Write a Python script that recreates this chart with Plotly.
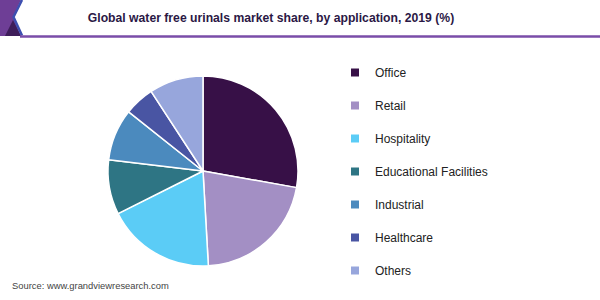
import plotly.graph_objects as go

categories = ["Office", "Retail", "Hospitality", "Educational Facilities",
              "Industrial", "Healthcare", "Others"]
shares = [27.8, 21.3, 18.5, 9.3, 8.8, 5.1, 9.2]
colors = ["#371047", "#A38FC4", "#5BCCF6", "#2E7584", "#4B8ABE", "#4955A3", "#97A6DC"]

title_text = "Global water free urinals market share, by application, 2019 (%)"
source_text = "Source: www.grandviewresearch.com"

W, H = 600, 300

def px(x):
    return x / W

def py(y):
    return 1 - y / H

fig = go.Figure()
fig.add_trace(go.Pie(
    labels=categories, values=shares, sort=False, direction="clockwise",
    rotation=0, textinfo="none", hoverinfo="label+percent",
    marker=dict(colors=colors, line=dict(color="white", width=1.5)),
    domain=dict(x=[px(108), px(298)], y=[py(266), py(76)]),
    showlegend=False,
))

for i, (c, col) in enumerate(zip(categories, colors)):
    fig.add_trace(go.Scatter(
        x=[None], y=[None], mode="markers", name=c,
        marker=dict(symbol="square", size=8, color=col),
        legendgroup=f"g{i}", showlegend=True,
    ))

shapes = []
# header corner decoration
shapes.append(dict(type="path", xref="paper", yref="paper",
                   path=f"M 0 {py(0)} L {px(21)} {py(0)} L {px(13)} {py(17)} L {px(21)} {py(36)} L 0 {py(36)} Z",
                   fillcolor="#6E3E96", line=dict(width=0), layer="above"))
shapes.append(dict(type="path", xref="paper", yref="paper",
                   path=f"M {px(5)} {py(36)} L {px(13)} {py(20)} L {px(21)} {py(36)} Z",
                   fillcolor="#3E1D5A", line=dict(width=0), layer="above"))
shapes.append(dict(type="path", xref="paper", yref="paper",
                   path=f"M {px(22)} {py(0)} L {px(13.5)} {py(17)} L {px(22)} {py(35.5)}",
                   line=dict(color="#3D4FB0", width=2.5), layer="above"))
# header underline
shapes.append(dict(type="line", xref="paper", yref="paper",
                   x0=px(20), x1=1, y0=py(36.5), y1=py(36.5),
                   line=dict(color="#7A4DA8", width=2.5), layer="above"))

fig.update_layout(
    width=W, height=H,
    margin=dict(l=0, r=0, t=0, b=0),
    paper_bgcolor="white", plot_bgcolor="white",
    xaxis=dict(visible=False), yaxis=dict(visible=False),
    shapes=shapes,
    title=dict(text=f"<b>{title_text}</b>", x=px(271), xanchor="center",
               y=py(18), yanchor="middle",
               font=dict(family="Liberation Sans, Arial", size=12.2, color="#2B1845")),
    legend=dict(x=px(335), y=py(58), xanchor="left", yanchor="top",
                font=dict(family="Liberation Sans, Arial", size=12, color="#222222"),
                tracegroupgap=14, itemclick=False, bgcolor="rgba(0,0,0,0)"),
    annotations=[dict(text=source_text, x=px(10), y=py(285), xref="paper", yref="paper",
                      xanchor="left", yanchor="middle", showarrow=False,
                      font=dict(family="Liberation Sans, Arial", size=9.4, color="#444444"))],
)

fig.write_html("out.html")
